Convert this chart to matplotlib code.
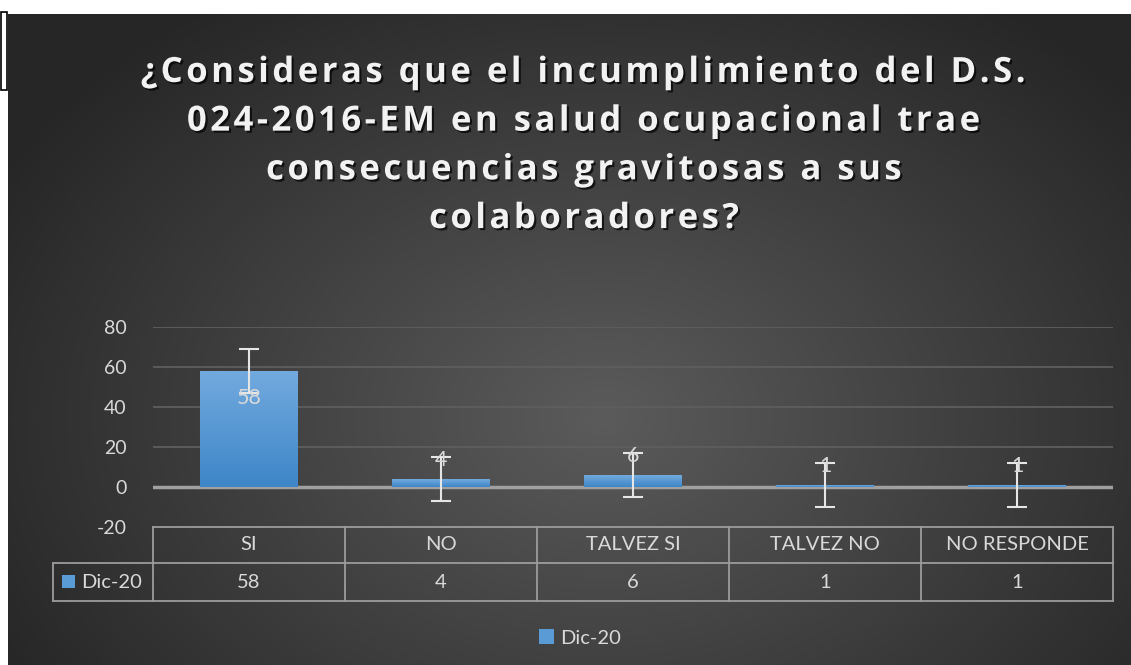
import numpy as np
import matplotlib
matplotlib.use('Agg')
import matplotlib.pyplot as plt
import matplotlib.patheffects as pe
from matplotlib.patches import Rectangle

# datos del gráfico
categorias = ["SI", "NO", "TALVEZ SI", "TALVEZ NO", "NO RESPONDE"]
valores = [58, 4, 6, 1, 1]
error = 11
serie = "Dic-20"
titulo = ["¿Consideras que el incumplimiento del D.S.",
          "024-2016-EM en salud ocupacional trae",
          "consecuencias gravitosas a sus",
          "colaboradores?"]
yticks = [-20, 0, 20, 40, 60, 80]

W, H = 1131, 665
TXT = "#d9d9d9"
LINE = "#9c9c9c"
FONT = "Lato"


def fx(px):
    return px / W


def fy(py):
    return 1 - py / H


fig = plt.figure(figsize=(W / 100, H / 100), dpi=100)
fig.patch.set_facecolor("white")

# fondo con degradado radial
bg = fig.add_axes([fx(8), 0, 1 - fx(8), 1 - 14 / H], zorder=-10)
xx, yy = np.meshgrid(np.linspace(0, 1, 400), np.linspace(0, 1, 240))
r = np.sqrt(((xx - 0.53) / 0.62) ** 2 + ((yy - 0.62) / 0.78) ** 2)
r = np.clip(r, 0, 1)
c0 = np.array([0x5b, 0x5b, 0x5b]) / 255
c1 = np.array([0x26, 0x26, 0x26]) / 255
img = c0[None, None, :] * (1 - r[..., None]) + c1[None, None, :] * r[..., None]
bg.imshow(img, aspect="auto", extent=[0, 1, 0, 1], origin="upper")
bg.set_axis_off()

# cuadrito blanco en la esquina
fig.patches.append(Rectangle((fx(0.5), fy(90)), fx(6), 78 / H, transform=fig.transFigure,
                             facecolor="white", edgecolor="black", lw=1.2))

# título (con espaciado entre letras)
espaciado = "\u200a"
titulo_esp = "\n".join(espaciado.join(linea) for linea in titulo)
fig.text(fx(584), fy(146), titulo_esp, ha="center", va="center", fontsize=25,
         fontweight="bold", family=["Open Sans", "DejaVu Sans"], color="#f2f2f2",
         linespacing=1.47, multialignment="center",
         path_effects=[pe.withSimplePatchShadow(offset=(1.5, -1.5), shadow_rgbFace="black", alpha=0.7)])

ax = fig.add_axes([fx(153), fy(527), fx(960), 200 / H])
ax.set_facecolor("none")
x = np.arange(len(categorias))

for g in yticks[2:]:
    ax.axhline(g, color="#5e5e5e", lw=1.3, zorder=1)
ax.axhline(0, color="#a0a0a0", lw=2.5, zorder=2)

bars = ax.bar(x, valores, width=0.51, color="#5b9bd5", zorder=3)
grad = np.linspace(0, 1, 100)[:, None]
top = np.array([0x72, 0xaa, 0xde]) / 255
bot = np.array([0x3e, 0x86, 0xc8]) / 255
gimg = top[None, None, :] * (1 - grad[..., None]) + bot[None, None, :] * grad[..., None]
for b in bars:
    bx, by, bw, bh = b.get_x(), b.get_y(), b.get_width(), b.get_height()
    im = ax.imshow(gimg, extent=[bx, bx + bw, by, by + bh], aspect="auto", zorder=3.5)
    im.set_clip_path(b)
ax.set_xlim(-0.5, len(categorias) - 0.5)
ax.set_ylim(-20, 80)

ax.errorbar(x, valores, yerr=error, fmt="none", ecolor="#e6e6e6", elinewidth=1.5,
            capsize=7.5, capthick=1.5, zorder=5)

for xi, v in zip(x, valores):
    if v > 30:
        ypos = v - 13.5
    else:
        ypos = v + error - 1.5
    ax.text(xi, ypos, str(v), ha="center", va="center", color=TXT,
            fontsize=15.5, family=FONT, zorder=6)

ax.set_xticks([])
ax.set_yticks(yticks)
ax.set_yticklabels([str(t) for t in yticks], color=TXT, fontsize=14, family=FONT)
ax.tick_params(axis="y", length=0, pad=19)
for s in ax.spines.values():
    s.set_visible(False)

# tabla de datos
tr = ax.get_xaxis_transform()
h_top, h_mid, h_bot = 0, -36 / 200, -74 / 200
lab_left = -0.5 - 100 / 192
kw = dict(color=LINE, lw=1.3, clip_on=False, transform=tr)
ax.plot([-0.5, len(categorias) - 0.5], [h_top, h_top], **kw)
ax.plot([lab_left, len(categorias) - 0.5], [h_mid, h_mid], **kw)
ax.plot([lab_left, len(categorias) - 0.5], [h_bot, h_bot], **kw)
ax.plot([lab_left, lab_left], [h_mid, h_bot], **kw)
for b in np.arange(len(categorias) + 1) - 0.5:
    ax.plot([b, b], [h_top, h_bot], **kw)

for xi, cat, v in zip(x, categorias, valores):
    ax.text(xi, (h_top + h_mid) / 2, cat, ha="center", va="center", color=TXT,
            fontsize=14.5, family=FONT, transform=tr, clip_on=False)
    ax.text(xi, (h_mid + h_bot) / 2, str(v), ha="center", va="center", color=TXT,
            fontsize=14.5, family=FONT, transform=tr, clip_on=False)

ax.add_patch(Rectangle((-0.5 - 91 / 192, (h_mid + h_bot) / 2 - 6 / 200), 13 / 192, 13 / 200,
                       transform=tr, clip_on=False, facecolor="#5b9bd5", edgecolor="none"))
ax.text(-0.5 - 72 / 192, (h_mid + h_bot) / 2, serie, ha="left", va="center", color=TXT,
        fontsize=14.5, family=FONT, transform=tr, clip_on=False)

# leyenda
leg = fig.legend(handles=[Rectangle((0, 0), 1, 1, facecolor="#5b9bd5")], labels=[serie],
                 loc="center", bbox_to_anchor=(fx(580), fy(638)), frameon=False,
                 prop={"family": FONT, "size": 14.5}, handlelength=0.7, handleheight=0.7,
                 handletextpad=0.3)
for t in leg.get_texts():
    t.set_color(TXT)

fig.savefig("out.png", dpi=100, facecolor=fig.get_facecolor())
